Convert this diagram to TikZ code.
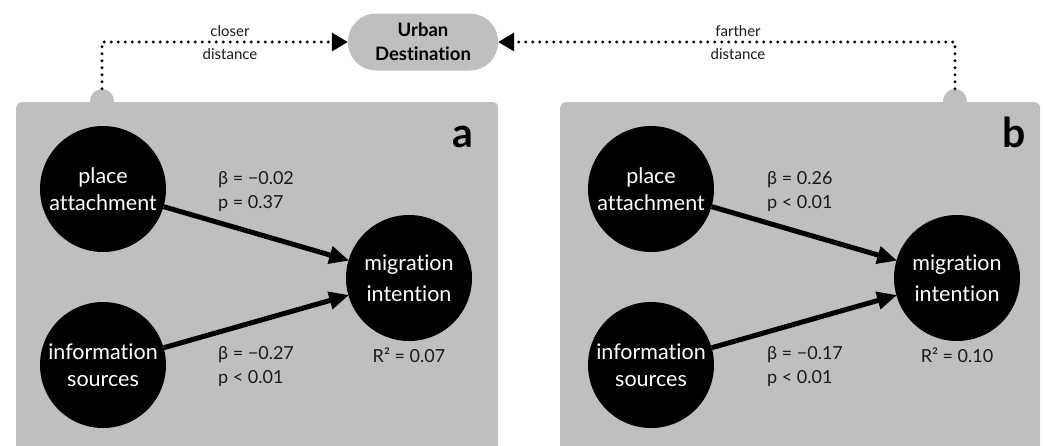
\documentclass[tikz,border=0pt]{standalone}
\usepackage{fontspec}
\setmainfont[Ligatures=NoCommon]{Lato}
\usetikzlibrary{arrows.meta}
\definecolor{panelgray}{HTML}{BFBFBF}
\definecolor{labelgray}{HTML}{1A1A1A}
\begin{document}
\begin{tikzpicture}[x=1pt,y=-1pt,
  panel/.style={fill=panelgray, rounded corners=5pt, inner sep=0pt, anchor=north west, minimum height=400pt},
  tab/.style={circle, fill=panelgray, minimum size=24pt, inner sep=0pt},
  construct/.style={circle, fill=black, text=white, minimum size=126pt, inner sep=0pt, align=center, font=\fontsize{21.5}{27}\selectfont},
  dest/.style={fill=panelgray, rounded corners=28pt, minimum width=150pt, minimum height=57pt, inner sep=0pt, align=center, font=\bfseries\fontsize{18.5}{24}\selectfont},
  coef/.style={align=left, anchor=west, inner sep=0pt, text=labelgray, font=\fontsize{18}{24}\selectfont},
  rsq/.style={inner sep=0pt, anchor=base, text=labelgray, font=\fontsize{18}{24}\selectfont},
  dist/.style={inner sep=0pt, align=center, text=labelgray, font=\fontsize{15}{23}\selectfont},
  letter/.style={inner sep=0pt, anchor=base, font=\bfseries\fontsize{41}{44}\selectfont},
  path/.style={line width=5pt, -{Triangle[length=20pt,width=17pt]}, shorten >=-1pt},
  reach/.style={line width=3.2pt, line cap=round, dash pattern=on 0pt off 7pt, -{Triangle[length=16pt,width=18pt]}}
]
\useasboundingbox (0,0) rectangle (1045,445);
\clip (0,0) rectangle (1045,445);

% panels and tabs
\node[tab] (taba) at (102,101) {};
\node[tab] (tabb) at (955,101) {};
\node[panel, minimum width=482pt] (pa) at (16,102) {};
\node[panel, minimum width=480pt] (pb) at (560,102) {};

% destination
\node[dest] (urban) at (423,42) {Urban\\Destination};
\draw[reach] (taba.north) |- (urban.west);
\draw[reach] (tabb.north) |- (urban.east);
\node[dist] (closer) at (230,43) {closer\\distance};
\node[dist] (farther) at (738,43) {farther\\distance};

% panel a
\node[letter] (la) at (463,147) {a};
\node[construct] (pa1) at (103,189) {place\\attachment};
\node[construct] (is1) at (103,365) {information\\sources};
\node[construct, font=\fontsize{21.5}{31}\selectfont] (mi1) at (409,278) {migration\\intention};
\draw[path] (pa1) -- (mi1);
\draw[path] (is1) -- (mi1);
\node[coef] (c1a) at (218,192) {β = −0.02\\p = 0.37};
\node[coef] (c1b) at (218,367) {β = −0.27\\p < 0.01};
\node[rsq] (r1) at (409,362) {R² = 0.07};

% panel b
\node[letter] (lb) at (1014,147) {b};
\node[construct] (pa2) at (651,189) {place\\attachment};
\node[construct] (is2) at (651,365) {information\\sources};
\node[construct, font=\fontsize{21.5}{31}\selectfont] (mi2) at (957,278) {migration\\intention};
\draw[path] (pa2) -- (mi2);
\draw[path] (is2) -- (mi2);
\node[coef] (c2a) at (767,192) {β = 0.26\\p < 0.01};
\node[coef] (c2b) at (767,367) {β = −0.17\\p < 0.01};
\node[rsq] (r2) at (957,362) {R² = 0.10};
\end{tikzpicture}
\end{document}
